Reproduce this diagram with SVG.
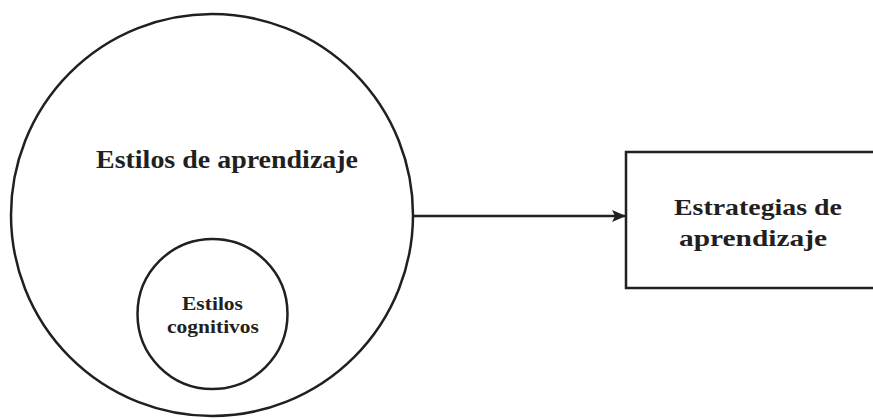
<svg xmlns="http://www.w3.org/2000/svg" width="873" height="419" viewBox="0 0 873 419">
<style>
.shape{fill:none;stroke:#231f20;stroke-width:2.5}
.t{font-family:"Liberation Serif",serif;font-weight:bold;fill:#231f20;text-anchor:middle}
</style>
<defs>
<marker id="ah" markerWidth="14" markerHeight="12" refX="14" refY="6" orient="auto" markerUnits="userSpaceOnUse">
<path d="M0,0 L14,6 L0,12 L3,6 Z" fill="#231f20"/>
</marker>
</defs>
<rect width="873" height="419" fill="#fff"/>
<g id="connectors">
<line x1="413" y1="216" x2="626" y2="216" stroke="#231f20" stroke-width="2.5" marker-end="url(#ah)"/>
</g>
<g id="estilos-aprendizaje">
<circle class="shape" cx="212" cy="215" r="201"/>
<text class="t" x="227" y="168" font-size="25" textLength="262" lengthAdjust="spacingAndGlyphs">Estilos de aprendizaje</text>
</g>
<g id="estilos-cognitivos">
<circle class="shape" cx="212.5" cy="314" r="75"/>
<text class="t" x="212.5" y="310" font-size="18" textLength="61" lengthAdjust="spacingAndGlyphs">Estilos</text>
<text class="t" x="213" y="333" font-size="18" textLength="92" lengthAdjust="spacingAndGlyphs">cognitivos</text>
</g>
<g id="estrategias">
<rect class="shape" x="626" y="152" width="260" height="136"/>
<text class="t" x="758" y="215" font-size="24" textLength="168" lengthAdjust="spacingAndGlyphs">Estrategias de</text>
<text class="t" x="753" y="246" font-size="24" textLength="148" lengthAdjust="spacingAndGlyphs">aprendizaje</text>
</g>
</svg>
